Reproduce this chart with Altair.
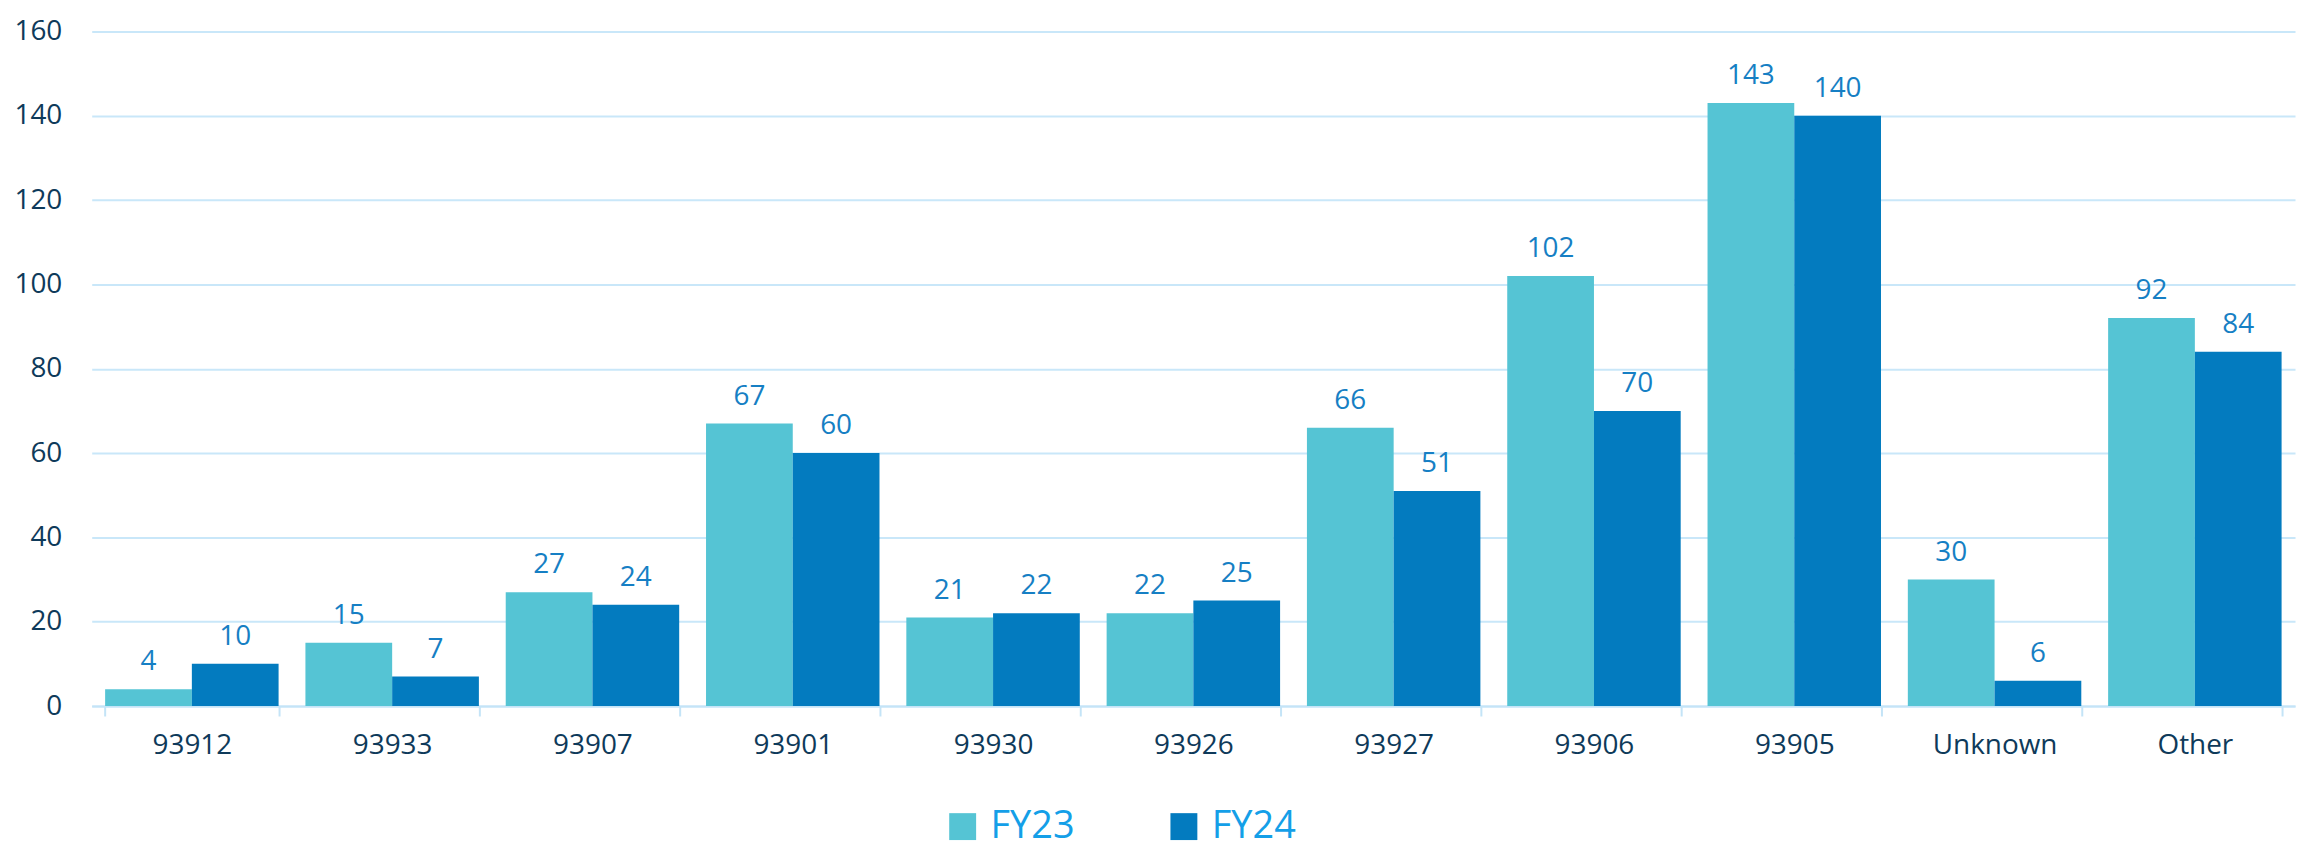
import altair as alt
import pandas as pd

categories = ["93912", "93933", "93907", "93901", "93930", "93926",
              "93927", "93906", "93905", "Unknown", "Other"]
fy23 = [4, 15, 27, 67, 21, 22, 66, 102, 143, 30, 92]
fy24 = [10, 7, 24, 60, 22, 25, 51, 70, 140, 6, 84]
series = ["FY23", "FY24"]
colors = ["#55c4d4", "#037bbf"]
y_ticks = [0, 20, 40, 60, 80, 100, 120, 140, 160]

rows = []
for c, a, b in zip(categories, fy23, fy24):
    rows.append({"cat": c, "year": "FY23", "value": a})
    rows.append({"cat": c, "year": "FY24", "value": b})
df = pd.DataFrame(rows)

FONT = "Open Sans"

base = alt.Chart(df).encode(
    x=alt.X("cat:N", sort=categories, title=None,
            scale=alt.Scale(paddingInner=0.134, paddingOuter=0.067),
            axis=alt.Axis(labelAngle=0, labelFontSize=28, labelColor="#0e3a5a",
                          labelFont=FONT, labelPadding=16,
                          domainColor="#c4e4f7", domainWidth=2,
                          tickColor="#c4e4f7", tickWidth=2, tickSize=10,
                          tickBand="extent", grid=False)),
    xOffset=alt.XOffset("year:N", sort=series),
    y=alt.Y("value:Q", title=None,
            scale=alt.Scale(domain=[0, 160], nice=False),
            axis=alt.Axis(values=y_ticks, labelFontSize=28, labelColor="#0e3a5a",
                          labelFont=FONT, labelPadding=30, domain=False,
                          ticks=False, gridColor="#c9e7f9", gridWidth=2)),
)

bars = base.mark_bar().encode(
    color=alt.Color("year:N", sort=series,
                    scale=alt.Scale(domain=series, range=colors),
                    legend=alt.Legend(title=None, orient="none",
                                      legendX=855, legendY=779,
                                      direction="horizontal",
                                      symbolType="square", symbolSize=729,
                                      symbolStrokeWidth=0, symbolOpacity=1,
                                      labelFontSize=38, labelFont=FONT,
                                      labelColor="#149fe8", labelOffset=9,
                                      columnPadding=90))
)

labels = base.mark_text(baseline="alphabetic", dy=-19, fontSize=28,
                        font=FONT, color="#167fc4").encode(
    text=alt.Text("value:Q")
)

chart = (bars + labels).properties(
    width=2211, height=677,
    autosize=alt.AutoSizeParams(type="none"),
    padding={"left": 84, "top": 22, "right": 4, "bottom": 144},
    background="white",
).configure_view(stroke=None)

chart.save("out.html", embed_options={"renderer": "svg", "actions": False})
